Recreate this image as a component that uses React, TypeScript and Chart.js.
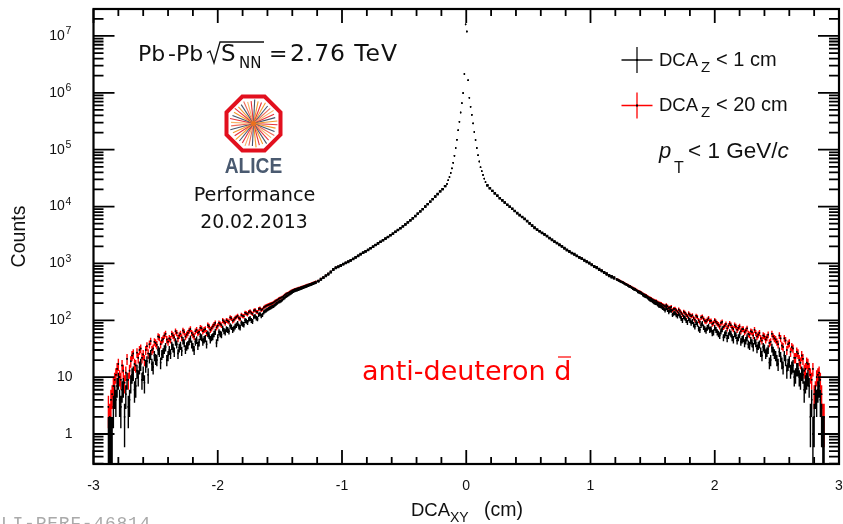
import React, { useEffect, useRef } from "react";
import { Chart, registerables } from "chart.js";

Chart.register(...registerables);

const xTickValues = [-3, -2, -1, 0, 1, 2, 3];
const yTickValues = [1, 10, 100, 1000, 10000, 100000, 1000000, 10000000];
const yTickLabels = ["1", "10", "10  ", "10  ", "10  ", "10  ", "10  ", "10  "];
const yTickExponents = ["", "", "2", "3", "4", "5", "6", "7"];

// counts per 0.01 bin. "A" tails hold -2.99,-2.97..-1.21 and 1.21,1.23..2.99; "B" tails hold the bins in between.
const tailLeftBlackA = [0,0,0,0,0,0,1,1,5,7,4,6,2,9,4,11,6,13,15,9,8,19,22,17,24,20,28,25,31,20,30,36,28,38,33,29,40,35,43,38,30,45,41,50,46,38,54,50,58,40,62,56,65,70,64,76,72,82,78,90,84,97,104,100,115,110,125,120,138,150,160,170,178,195,210,220,240,262,280,300,320,335,345,360,375,390,405,420,440,455];
const tailLeftBlackB = [0,0,0,0,0,1,1,3,4,9,3,7,5,3,8,12,7,10,17,12,16,11,25,15,21,30,18,27,34,24,26,33,42,26,36,44,31,37,47,34,42,36,52,42,48,58,46,52,63,50,58,72,62,68,80,68,78,88,75,86,100,92,108,96,118,106,130,125,145,155,165,174,186,202,215,230,250,270,290,310,328,340,352,368,382,398,412,430,448];
const tailLeftRedA = [0,0,0,0,0,0,2,5,9,14,10,16,8,21,13,24,17,27,30,22,20,35,38,30,42,37,50,44,54,46,48,58,50,60,54,50,62,56,66,60,52,68,63,72,68,60,78,72,84,75,90,82,95,100,94,108,102,115,110,124,118,132,140,135,148,142,158,152,168,180,188,196,206,222,238,250,268,290,305,325,345,355,368,380,395,410,425,440,460,478];
const tailLeftRedB = [0,0,0,0,0,3,4,7,11,17,9,13,12,9,19,26,16,22,32,25,30,26,43,32,40,52,38,47,58,42,46,54,64,48,58,66,52,60,70,56,64,60,74,64,70,82,68,78,90,80,86,100,90,98,112,98,110,120,106,120,136,128,144,130,152,140,162,156,174,184,192,200,214,230,244,258,280,298,315,335,350,362,374,388,402,418,432,450,468];
const midLeftBlack = [485,520,555,600,640,700,770,830,860,905,960,1010,1060,1120,1190,1270,1350,1440,1530,1620,1720,1840,1960,2100,2240,2390,2550,2720,2910,3110,3330,3590,3850,4140,4470,4840,5250,5700,6200,6800,7500,8200,9000,10000,11000,12200,13500,15000,16600,18500,20300,22800];
const midLeftRed = [495,535,570,615,660,720,790,850,885,930,985,1035,1085,1145,1215,1295,1375,1465,1555,1645,1745,1865,1985,2125,2265,2415,2575,2745,2935,3135,3355,3615,3875,4165,4495,4865,5275,5725,6225,6825,7525,8225,9025,10025,11025,12225,13525,15025,16625,18525,20325,22825];
const coreBlack = [25000,29000,33000,39000,47000,59000,78000,107000,150000,220000,310000,450000,660000,990000,2150000,16000000,12000000,1660000,820000,570000,410000,290000,205000,148000,107000,80000,62000,49000,42000,36000,31000,27000];
const midRightBlack = [23500,21000,18800,17000,15500,14000,12800,11700,10700,9900,9100,8300,7600,7000,6500,6000,5500,5000,4600,4200,3900,3650,3400,3200,3000,2770,2580,2400,2250,2100,1970,1830,1700,1600,1500,1430,1340,1260,1200,1120,1060,1000,930,870,830,770,730,680,640,600,570,545];
const midRightRed = [23600,21100,18900,17100,15600,14100,12900,11800,10800,10000,9200,8400,7700,7100,6600,6100,5600,5100,4680,4280,3970,3710,3460,3260,3060,2820,2630,2450,2300,2150,2010,1870,1740,1640,1535,1465,1375,1295,1230,1150,1090,1030,960,900,860,800,755,705,665,625,595,565];
const tailRightBlackA = [520,495,470,445,420,395,375,350,335,310,295,270,258,235,222,205,198,180,172,160,165,140,148,132,124,130,108,115,100,106,90,84,92,72,82,76,66,78,70,62,68,58,64,50,60,54,58,46,54,50,42,48,44,38,44,34,40,36,28,34,26,31,20,29,24,17,23,15,20,17,13,16,11,14,9,11,8,10,2,1,5,6,4,1,0,0,0,0,0,0];
const tailRightBlackB = [510,480,460,430,408,388,360,345,318,305,280,262,248,228,215,200,188,178,165,150,152,150,125,135,118,120,100,110,92,100,96,78,86,68,88,70,74,68,60,74,62,54,70,56,48,62,50,58,44,56,46,40,50,36,40,44,32,38,24,32,28,18,33,26,20,28,18,24,13,19,15,10,14,10,12,6,9,7,4,2,4,7,2,1,0,0,0,0,0];
const tailRightRedA = [530,505,480,455,432,405,385,362,345,322,308,285,272,252,240,225,218,202,195,182,186,165,172,158,150,155,135,142,126,132,118,110,120,100,112,106,95,108,98,90,94,84,90,76,86,80,82,70,78,74,64,70,66,58,64,54,60,56,48,54,46,56,42,52,46,38,48,34,44,38,28,32,22,26,18,21,14,17,11,14,6,11,9,2,0,0,0,0,0,0];
const tailRightRedB = [520,492,470,442,418,398,372,356,330,316,295,278,262,246,232,220,208,198,188,176,176,168,150,160,142,146,126,136,118,125,122,102,114,94,116,98,102,96,86,100,88,78,94,80,72,88,74,82,68,78,70,62,72,56,62,68,52,60,44,52,50,40,58,48,42,54,36,48,30,40,34,22,28,20,24,13,18,14,9,5,10,12,5,2,0,0,0,0,0];

const bins = (start: number, step: number, counts: number[], w: number) =>
  counts.map((y, i) => ({ x: start + i * step, y, w })).filter((p) => p.y > 0);

const blackPoints = [
  ...bins(-2.99, 0.02, tailLeftBlackA, 0.01), ...bins(-2.98, 0.02, tailLeftBlackB, 0.01),
  ...bins(-1.19, 0.02, midLeftBlack, 0.02), ...bins(-0.155, 0.01, coreBlack, 0.006),
  ...bins(0.17, 0.02, midRightBlack, 0.02),
  ...bins(1.21, 0.02, tailRightBlackA, 0.01), ...bins(1.22, 0.02, tailRightBlackB, 0.01),
];
const redPoints = [
  ...bins(-2.99, 0.02, tailLeftRedA, 0.01), ...bins(-2.98, 0.02, tailLeftRedB, 0.01),
  ...bins(-1.19, 0.02, midLeftRed, 0.02), ...bins(-0.155, 0.01, coreBlack, 0.006),
  ...bins(0.17, 0.02, midRightRed, 0.02),
  ...bins(1.21, 0.02, tailRightRedA, 0.01), ...bins(1.22, 0.02, tailRightRedB, 0.01),
];

const SANS = '"Liberation Sans", sans-serif';
const DEJAVU = '"DejaVu Sans", sans-serif';

const errorBars = {
  id: "errorBars",
  beforeDatasetDraw(chart: any, args: any) {
    const { ctx, chartArea, scales } = chart;
    const ds = chart.data.datasets[args.index];
    ctx.save();
    ctx.beginPath();
    ctx.rect(chartArea.left, chartArea.top, chartArea.width, chartArea.height);
    ctx.clip();
    ctx.strokeStyle = ds.borderColor;
    ctx.lineWidth = 1.4;
    ctx.beginPath();
    for (const p of ds.data) {
      const e = Math.sqrt(p.y);
      const px = scales.x.getPixelForValue(p.x);
      const lo = p.y - e;
      const yLo = lo > scales.y.min ? scales.y.getPixelForValue(lo) : chartArea.bottom;
      ctx.moveTo(px, yLo);
      ctx.lineTo(px, scales.y.getPixelForValue(p.y + e));
    }
    ctx.stroke();
    ctx.strokeStyle = "#000";
    for (const wide of [true, false]) {
      ctx.lineWidth = wide ? 2.3 : 1.6;
      ctx.beginPath();
      for (const p of ds.data) {
        if ((p.w > 0.015) !== wide) continue;
        const py = scales.y.getPixelForValue(p.y);
        ctx.moveTo(scales.x.getPixelForValue(p.x - p.w / 2), py);
        ctx.lineTo(scales.x.getPixelForValue(p.x + p.w / 2), py);
      }
      ctx.stroke();
    }
    ctx.restore();
  },
};

const frameAndTicks = {
  id: "frameAndTicks",
  afterDatasetsDraw(chart: any) {
    const { ctx, chartArea: a, scales } = chart;
    ctx.save();
    ctx.strokeStyle = "#000";
    ctx.lineWidth = 1.8;
    ctx.beginPath();
    for (let i = -15; i <= 15; i++) {
      const px = scales.x.getPixelForValue(i / 5);
      const len = i % 5 === 0 ? 14 : 7;
      ctx.moveTo(px, a.bottom); ctx.lineTo(px, a.bottom - len);
      ctx.moveTo(px, a.top); ctx.lineTo(px, a.top + len);
    }
    for (let d = -1; d <= 7; d++) {
      for (let m = 1; m <= 9; m++) {
        const v = m * Math.pow(10, d);
        if (v < scales.y.min || v > scales.y.max) continue;
        const py = scales.y.getPixelForValue(v);
        const len = m === 1 ? 21 : 10;
        ctx.moveTo(a.left, py); ctx.lineTo(a.left + len, py);
        ctx.moveTo(a.right, py); ctx.lineTo(a.right - len, py);
      }
    }
    ctx.stroke();
    ctx.lineWidth = 2.2;
    ctx.strokeRect(a.left, a.top, a.width, a.height);
    ctx.fillStyle = "#111";
    ctx.font = `10.5px ${SANS}`;
    ctx.textAlign = "left";
    ctx.textBaseline = "alphabetic";
    yTickValues.forEach((v, i) => {
      if (yTickExponents[i]) ctx.fillText(yTickExponents[i], 65.5, scales.y.getPixelForValue(v) - 1.5);
    });
    ctx.restore();
  },
};

const rayColors = ["#e8333a", "#f39a2e", "#46546b", "#ef6a5a", "#f7b267", "#e8333a", "#46546b", "#f39a2e"];

function drawLogo(ctx: CanvasRenderingContext2D, cx: number, cy: number) {
  const R = 27;
  const rays = 40;
  for (let i = 0; i < rays; i++) {
    const t = (i / rays) * Math.PI * 2 + 0.05;
    const r = i % 3 === 0 ? 24 : 22.5;
    ctx.strokeStyle = rayColors[i % rayColors.length];
    ctx.lineWidth = 1.1;
    ctx.beginPath();
    ctx.moveTo(cx, cy);
    ctx.lineTo(cx + r * Math.cos(t), cy + r * Math.sin(t));
    ctx.stroke();
  }
  ctx.fillStyle = "#e8701e";
  ctx.beginPath(); ctx.arc(cx, cy, 2.5, 0, Math.PI * 2); ctx.fill();
  ctx.strokeStyle = "#e2101e";
  ctx.lineWidth = 4;
  ctx.beginPath();
  for (let i = 0; i < 8; i++) {
    const t = Math.PI / 8 + (i * Math.PI) / 4;
    const rr = R / Math.cos(Math.PI / 8);
    const px = cx + rr * Math.cos(t), py = cy + rr * Math.sin(t);
    if (i === 0) ctx.moveTo(px, py); else ctx.lineTo(px, py);
  }
  ctx.closePath();
  ctx.stroke();
  ctx.save();
  ctx.fillStyle = "#4a5a70";
  ctx.font = `bold 22px ${SANS}`;
  ctx.textAlign = "center";
  ctx.translate(cx, 172.5);
  ctx.scale(0.87, 1);
  ctx.fillText("ALICE", 0, 0);
  ctx.restore();
}

const annotations = {
  id: "annotations",
  afterDraw(chart: any) {
    const { ctx } = chart;
    const put = (s: string, x: number, y: number, font: string, color = "#111", align: CanvasTextAlign = "left") => {
      ctx.font = font;
      ctx.fillStyle = color;
      ctx.textAlign = align;
      ctx.textBaseline = "alphabetic";
      ctx.fillText(s, x, y);
    };
    ctx.save();
    // collision system
    put("Pb", 138, 60.5, `22px ${DEJAVU}`);
    put("-", 168, 60.5, `22px ${DEJAVU}`);
    put("Pb", 176, 60.5, `22px ${DEJAVU}`);
    ctx.strokeStyle = "#111";
    ctx.lineWidth = 1.3;
    ctx.beginPath();
    ctx.moveTo(207, 53); ctx.lineTo(210, 51); ctx.lineTo(214, 63); ctx.lineTo(220, 42); ctx.lineTo(264, 42);
    ctx.stroke();
    put("S", 221, 60.5, `23px ${DEJAVU}`);
    put("NN", 239, 68, `15px ${DEJAVU}`);
    put("=", 269, 60.5, `22px ${DEJAVU}`);
    (ctx as any).letterSpacing = "0.9px";
    put("2.76 TeV", 290, 60.5, `23.5px ${DEJAVU}`);
    (ctx as any).letterSpacing = "0px";

    drawLogo(ctx, 253.5, 123.5);
    put("Performance", 254.5, 200.5, `19.2px ${DEJAVU}`, "#111", "center");
    put("20.02.2013", 254, 228, `18.8px ${DEJAVU}`, "#111", "center");

    // legend
    const cross = (y: number, color: string) => {
      ctx.strokeStyle = color;
      ctx.lineWidth = 1.3;
      ctx.beginPath();
      ctx.moveTo(621.5, y); ctx.lineTo(652.5, y);
      ctx.moveTo(637, y - 13); ctx.lineTo(637, y + 13);
      ctx.stroke();
      ctx.fillStyle = "#000";
      ctx.fillRect(636, y - 1, 2, 2);
    };
    cross(60, "#111");
    cross(105.5, "#ff0000");
    put("DCA", 659, 65.5, `18.5px ${SANS}`);
    put("Z", 701, 71.5, `15px ${SANS}`);
    put("< 1 cm", 716, 65.5, `20px ${SANS}`);
    put("DCA", 659, 110.5, `18.5px ${SANS}`);
    put("Z", 701, 116.5, `15px ${SANS}`);
    put("< 20 cm", 716, 110.5, `20px ${SANS}`);
    put("p", 659, 158, `italic 22px ${SANS}`);
    put("T", 674, 173, `16px ${SANS}`);
    const pt = "< 1 GeV/";
    put(pt, 688, 158, `22.5px ${SANS}`);
    const ptWidth = ctx.measureText(pt).width;
    put("c", 688 + ptWidth, 158, `italic 22.5px ${SANS}`);

    // species
    put("anti-deuteron d", 362, 380, `27px ${DEJAVU}`, "#ff0000");
    ctx.strokeStyle = "#ff0000";
    ctx.lineWidth = 1.2;
    ctx.beginPath();
    ctx.moveTo(558, 357); ctx.lineTo(571, 357);
    ctx.stroke();

    // x axis title
    put("DCA", 411, 516, `18.5px ${SANS}`);
    put("XY", 450, 522, `14px ${SANS}`);
    put("(cm)", 484, 516, `19.5px ${SANS}`);

    // report id, cut by the page edge
    (ctx as any).letterSpacing = "0.75px";
    put("LI-PERF-46814", 1, 529, `18px "Liberation Mono", monospace`, "#aaaaaa");
    (ctx as any).letterSpacing = "0px";
    ctx.restore();
  },
};

export default function App() {
  const ref = useRef<HTMLCanvasElement>(null);
  useEffect(() => {
    const chart = new Chart(ref.current as HTMLCanvasElement, {
      type: "scatter",
      data: {
        datasets: [
          { label: "DCAZ < 1 cm", data: blackPoints, borderColor: "#000000", backgroundColor: "#000000", order: 0 },
          { label: "DCAZ < 20 cm", data: redPoints, borderColor: "#ff0000", backgroundColor: "#000000", order: 1 },
        ],
      } as any,
      options: {
        animation: false,
        responsive: false,
        layout: { padding: { top: 9, right: 1.5, left: 0, bottom: 0 } },
        elements: { point: { pointStyle: "rect", radius: 1, borderWidth: 0 } },
        plugins: { legend: { display: false }, tooltip: { enabled: false } },
        scales: {
          x: {
            type: "linear",
            min: -3,
            max: 3,
            grid: { display: false },
            border: { display: false },
            afterBuildTicks: (s: any) => { s.ticks = xTickValues.map((value) => ({ value })); },
            afterFit: (s: any) => { s.height = 60; s.paddingLeft = 0; s.paddingRight = 0; },
            ticks: { maxRotation: 0, autoSkip: false, padding: 6, color: "#111", font: { family: SANS, size: 14 }, callback: (v: any) => String(v) },
          },
          y: {
            type: "logarithmic",
            min: 0.297,
            max: 2.98e7,
            grid: { display: false },
            border: { display: false },
            afterBuildTicks: (s: any) => { s.ticks = yTickValues.map((value) => ({ value })); },
            afterFit: (s: any) => { s.width = 93.5; s.paddingTop = 0; s.paddingBottom = 0; },
            title: { display: true, text: "Counts", color: "#111", font: { family: SANS, size: 19.5 }, padding: { top: 8, bottom: 0 } },
            ticks: {
              autoSkip: false,
              padding: 13,
              color: "#111",
              font: { family: SANS, size: 14 },
              callback: (v: any) => {
                const i = yTickValues.indexOf(Number(v));
                return i >= 0 ? yTickLabels[i] : "";
              },
            },
          },
        },
      },
      plugins: [errorBars, frameAndTicks, annotations],
    } as any);
    return () => chart.destroy();
  }, []);
  return (
    <div style={{ position: "fixed", left: 0, top: 0, width: 843, height: 524, background: "#fff", overflow: "hidden" }}>
      <canvas ref={ref} width={843} height={524} style={{ display: "block" }} />
    </div>
  );
}
